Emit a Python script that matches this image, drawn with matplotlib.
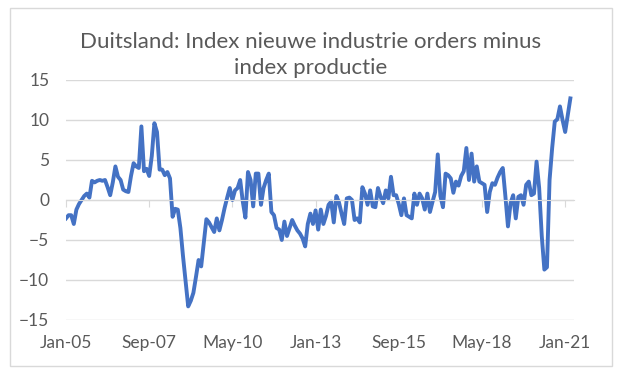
import matplotlib
matplotlib.use("Agg")
import matplotlib.pyplot as plt
import numpy as np
from matplotlib.patches import Rectangle

# maandelijkse waarden, jan 2005 t/m mrt 2021
values = [
    -2.3, -1.9, -1.9, -3.0, -1.2, -0.5, 0.0, 0.5, 0.8, 0.3,
    2.4, 2.2, 2.4, 2.5, 2.4, 2.5, 1.6, 0.6, 2.2, 4.2,
    2.9, 2.5, 1.3, 1.1, 1.0, 3.0, 4.6, 4.2, 4.0, 9.2,
    3.6, 3.9, 3.0, 5.5, 9.6, 8.5, 3.8, 3.8, 3.1, 3.5,
    2.7, -2.1, -1.1, -1.2, -3.5, -7.0, -10.2, -13.3, -12.6, -11.6,
    -9.6, -7.5, -8.3, -5.3, -2.4, -2.8, -3.4, -4.0, -2.3, -3.8,
    -2.5, -1.0, 0.3, 1.5, 0.0, 1.2, 1.5, 2.5, -0.2, -2.2,
    3.5, 2.5, -0.8, 3.3, 3.3, -0.6, 1.5, 2.5, 3.3, -1.5,
    -1.9, -3.5, -3.7, -5.0, -2.7, -4.5, -3.5, -2.5, -3.2, -3.8,
    -4.2, -4.8, -5.8, -3.0, -1.7, -3.0, -1.3, -3.7, -1.2, -3.0,
    -2.0, -0.6, -0.2, -2.8, 0.5, -0.3, -1.7, -3.0, 0.2, 0.3,
    0.0, -2.5, -2.3, -2.8, 1.6, 0.8, -0.6, 1.2, -0.8, -0.9,
    1.5, 0.4, -0.4, 1.2, 0.2, 2.9, 0.6, 0.6, -0.5, -1.9,
    0.2, -1.9, -2.1, -2.3, 0.8, -0.6, 0.8, 0.2, -1.2, 0.8,
    -1.5, -0.2, 1.0, 5.7, 0.5, -0.9, 3.3, 3.1, 2.7, 0.9,
    2.3, 1.8, 3.0, 3.6, 6.5, 2.5, 5.8, 2.3, 4.2, 2.3,
    2.1, 1.9, -1.5, 1.0, 2.1, 1.9, 2.8, 3.5, 4.0, 0.5,
    -3.3, -0.4, 0.6, -2.3, 0.4, 0.6, -0.6, 1.9, 2.3, 0.6,
    0.8, 4.8, 1.5, -4.5, -8.7, -8.4, 2.5, 6.5, 9.8, 10.1,
    11.7, 10.0, 8.5, 10.6, 12.7,
]
months = np.arange(len(values))

tick_pos = [0, 32, 64, 96, 128, 160, 192]
tick_labels = ["Jan-05", "Sep-07", "May-10", "Jan-13", "Sep-15", "May-18", "Jan-21"]
y_ticks = [-15, -10, -5, 0, 5, 10, 15]

title = "Duitsland: Index nieuwe industrie orders minus\nindex productie"

plt.rcParams["font.family"] = ["Lato", "DejaVu Sans"]
text_col = "#595959"
grid_col = "#d9d9d9"

fig = plt.figure(figsize=(6.25, 3.81), dpi=100)
ax = fig.add_axes([66 / 625, 1 - 320 / 381, (574 - 66) / 625, 240 / 381])

ax.plot(months, values, color="#4472C4", lw=2.8, solid_joinstyle="round")

ax.set_ylim(-15, 15)
ax.set_xlim(0, 195.4)
ax.set_yticks(y_ticks)
ax.yaxis.grid(True, color=grid_col, lw=1)
ax.set_axisbelow(True)
ax.tick_params(axis="y", length=0, pad=12, labelsize=12.5, labelcolor=text_col)

for side in ["left", "right", "top"]:
    ax.spines[side].set_visible(False)
ax.spines["bottom"].set_position(("data", 0))
ax.spines["bottom"].set_color(grid_col)
ax.set_xticks(tick_pos)
ax.tick_params(axis="x", direction="out", length=5, color=grid_col, labelbottom=False)

sec = ax.secondary_xaxis(0)
sec.set_xticks(tick_pos, tick_labels)
sec.tick_params(length=0, pad=11, labelsize=12.5, labelcolor=text_col)
sec.spines["bottom"].set_visible(False)

fig.text(0.497, 1 - 55 / 381, title, ha="center", va="center", fontsize=16,
         color=text_col, linespacing=1.35)

fig.patches.append(Rectangle((10 / 625, 1 - 366 / 381), 602 / 625, 358 / 381,
                             transform=fig.transFigure, fill=False,
                             edgecolor=grid_col, lw=1))

fig.savefig("out.png", dpi=100)
